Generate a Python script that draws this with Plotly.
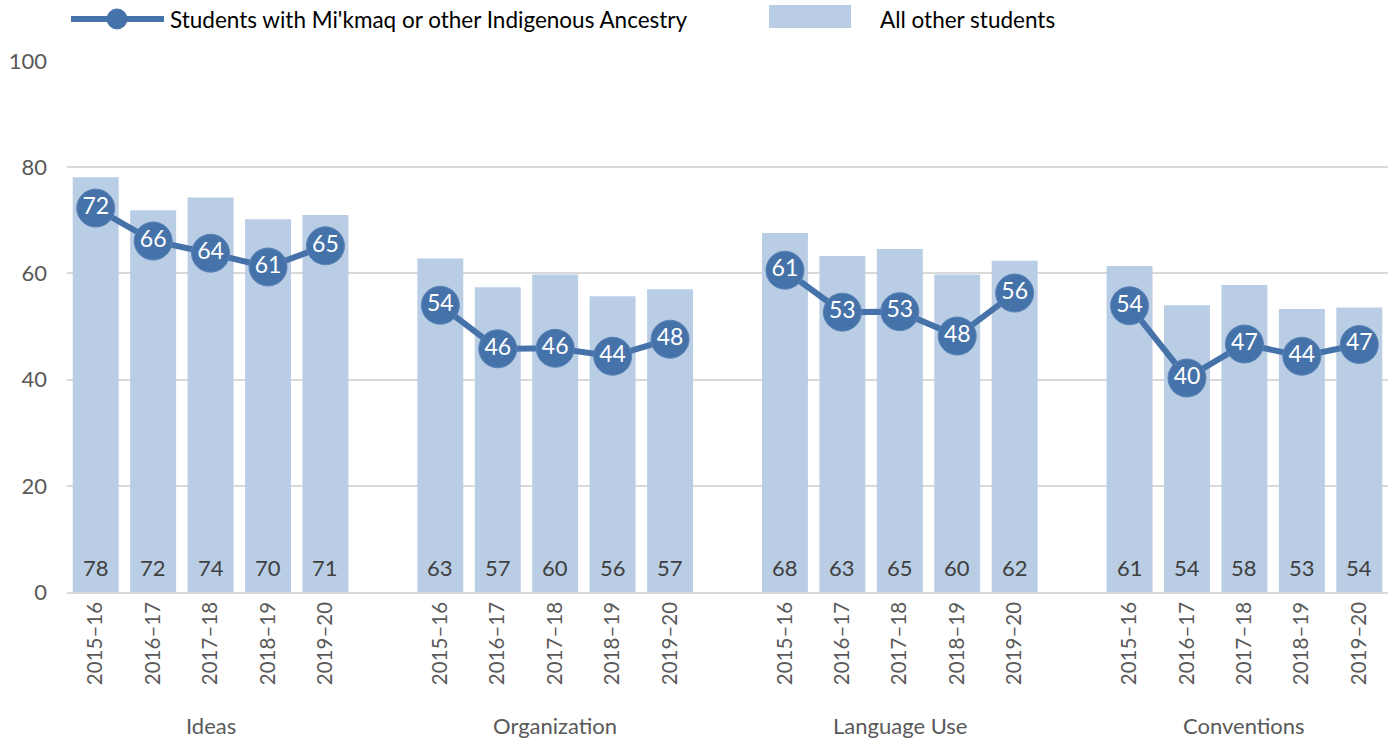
import plotly.graph_objects as go

groups = ["Ideas", "Organization", "Language Use", "Conventions"]
years = ["2015–16", "2016–17", "2017–18", "2018–19", "2019–20"]

other_students = [
    [78.1, 71.9, 74.3, 70.2, 71.0],
    [62.8, 57.4, 59.8, 55.7, 57.0],
    [67.6, 63.3, 64.6, 59.8, 62.4],
    [61.4, 54.0, 57.8, 53.3, 53.6],
]
indigenous = [
    [72.3, 66.1, 63.8, 61.2, 65.2],
    [54.0, 45.8, 45.9, 44.4, 47.6],
    [60.6, 52.7, 52.8, 48.2, 56.3],
    [53.9, 40.3, 46.7, 44.4, 46.6],
]

BAR = "#B9CDE5"
LINE = "#4672AA"
TXT = "#595959"
FONT = "Lato"

WIDTH, HEIGHT = 1397, 741
L, R, T, B = 67, 9, 61, 149
PW = WIDTH - L - R
PH = HEIGHT - T - B

def xp(px):  # page pixel -> paper coordinate
    return (px - L) / PW

def yp(py):
    return (T + PH - py) / PH

xs, bar_vals, line_x, line_y, tickvals, ticktext = [], [], [], [], [], []
centers = []
for g, grp in enumerate(groups):
    base = g * 6
    centers.append(base + 2)
    for i, yr in enumerate(years):
        pos = base + i
        xs.append(pos)
        bar_vals.append(other_students[g][i])
        line_x.append(pos)
        line_y.append(indigenous[g][i])
        tickvals.append(pos)
        ticktext.append(yr)
    if g < len(groups) - 1:
        line_x.append(base + 5)
        line_y.append(None)

fig = go.Figure()
fig.add_trace(go.Bar(
    x=xs, y=bar_vals, width=0.8, marker=dict(color=BAR, line=dict(width=0)),
    name="All other students", showlegend=False, hoverinfo="y",
))
fig.add_trace(go.Scatter(
    x=line_x, y=line_y, mode="lines+markers+text",
    line=dict(color=LINE, width=6),
    marker=dict(size=38, color=LINE, line=dict(width=1, color="#5a84b8")),
    text=[None if v is None else f"{round(v)}" for v in line_y],
    textposition="middle center",
    textfont=dict(color="white", size=23, family=FONT),
    connectgaps=False, showlegend=False,
    name="Students with Mi'kmaq or other Indigenous Ancestry",
))

annotations = []
for x, v in zip(xs, bar_vals):
    annotations.append(dict(x=x, y=0, xref="x", yref="y", text=f"{round(v)}",
                            showarrow=False, yanchor="middle", yshift=25,
                            font=dict(size=22, color="#404040", family=FONT)))
for c, g in zip(centers, groups):
    annotations.append(dict(x=c, y=0, xref="x", yref="paper", text=g,
                            showarrow=False, yanchor="middle", yshift=-133,
                            font=dict(size=22, color=TXT, family=FONT)))
annotations.append(dict(x=xp(168), y=yp(19), xref="paper", yref="paper",
                        text="Students with Mi'kmaq or other Indigenous Ancestry",
                        showarrow=False, xanchor="left", yanchor="middle",
                        font=dict(size=22.5, color="#000000", family=FONT)))
annotations.append(dict(x=xp(878), y=yp(19), xref="paper", yref="paper",
                        text="All other students",
                        showarrow=False, xanchor="left", yanchor="middle",
                        font=dict(size=22.5, color="#000000", family=FONT)))

shapes = [
    dict(type="line", xref="paper", yref="paper", x0=xp(71), x1=xp(164),
         y0=yp(19), y1=yp(19), line=dict(color=LINE, width=6)),
    dict(type="circle", xref="paper", yref="paper", x0=xp(107), x1=xp(127),
         y0=yp(9), y1=yp(29), fillcolor=LINE, line=dict(color=LINE, width=1)),
    dict(type="rect", xref="paper", yref="paper", x0=xp(769), x1=xp(851),
         y0=yp(5), y1=yp(28), fillcolor=BAR, line=dict(width=0)),
]

fig.update_layout(
    width=WIDTH, height=HEIGHT,
    margin=dict(l=L, r=R, t=T, b=B, autoexpand=False),
    plot_bgcolor="white", paper_bgcolor="white",
    font=dict(family=FONT, color=TXT),
    annotations=annotations, shapes=shapes,
)
fig.update_xaxes(range=[-0.5, 22.5], tickvals=tickvals, ticktext=ticktext,
                 tickangle=-90, tickfont=dict(size=20.5, color=TXT, family=FONT),
                 showgrid=False, showline=True, linecolor="#d9d9d9", linewidth=1.5,
                 ticks="", zeroline=False, automargin=False)
fig.update_yaxes(range=[0, 100], dtick=20, showgrid=True, gridcolor="#d9d9d9",
                 gridwidth=1.5, zeroline=False, showline=False, automargin=False,
                 tickfont=dict(size=22, color=TXT, family=FONT), ticklabelstandoff=19)

fig.write_html("out.html", config={"displayModeBar": False},
               post_script="document.body.style.margin='0';document.body.style.overflow='hidden';")
